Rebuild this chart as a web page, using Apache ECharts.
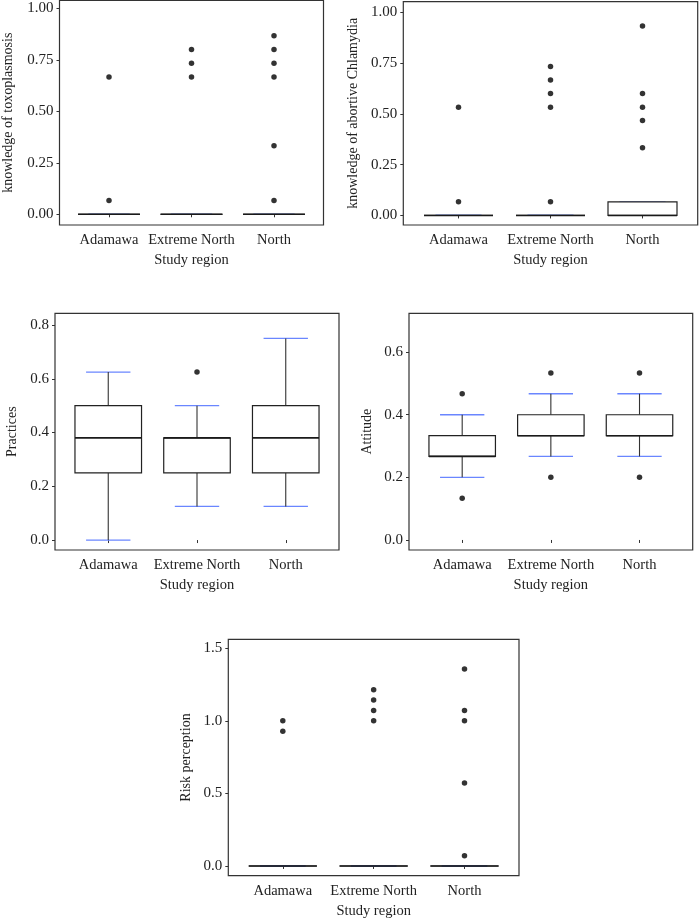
<!DOCTYPE html>
<html>
<head>
<meta charset="utf-8">
<script src="https://cdn.jsdelivr.net/npm/echarts@6/dist/echarts.min.js"></script>
<style>
  html,body{margin:0;padding:0;background:#fff}
  #main{width:699px;height:920px}
</style>
</head>
<body>
<div id="main"></div>
<script>
// categories (x positions 1,2,3)
let regions = ['Adamawa', 'Extreme North', 'North'];

// box stats per region: [min, Q1, median, Q3, max]
let toxoBox = [[0, 0, 0, 0, 0], [0, 0, 0, 0, 0], [0, 0, 0, 0, 0]];
let toxoOut = [[0.667, 0.067], [0.8, 0.733, 0.667], [0.867, 0.8, 0.733, 0.667, 0.333, 0.067]];
let toxoTicks = [0, 0.25, 0.5, 0.75, 1];

let chlamBox = [[0, 0, 0, 0, 0], [0, 0, 0, 0, 0], [0, 0, 0, 0.067, 0.067]];
let chlamOut = [[0.533, 0.067], [0.733, 0.667, 0.6, 0.533, 0.067], [0.933, 0.6, 0.533, 0.467, 0.333]];
let chlamTicks = [0, 0.25, 0.5, 0.75, 1];

let practBox = [[0, 0.25, 0.38, 0.5, 0.625], [0.125, 0.25, 0.38, 0.38, 0.5], [0.125, 0.25, 0.38, 0.5, 0.75]];
let practOut = [[], [0.625], []];
let practTicks = [0, 0.2, 0.4, 0.6, 0.8];

let attBox = [[0.2, 0.267, 0.267, 0.333, 0.4], [0.267, 0.333, 0.333, 0.4, 0.467], [0.267, 0.333, 0.333, 0.4, 0.467]];
let attOut = [[0.467, 0.133], [0.533, 0.2], [0.533, 0.2]];
let attTicks = [0, 0.2, 0.4, 0.6];

let riskBox = [[0, 0, 0, 0, 0], [0, 0, 0, 0, 0], [0, 0, 0, 0, 0]];
let riskOut = [[1.0, 0.929], [1.214, 1.143, 1.071, 1.0], [1.357, 1.071, 1.0, 0.571, 0.071]];
let riskTicks = [0, 0.5, 1, 1.5];

let chart = echarts.init(document.getElementById('main'));
let font = 'Liberation Serif';
let ink = '#222';
let capBlue = '#6a86ff';

let panels = [
  {box: toxoBox, out: toxoOut, ticks: toxoTicks, digits: 2, name: 'knowledge of toxoplasmosis',
   min: -0.052, max: 1.038, nameGap: 44, grid: {left: 59.5, top: 0.5, width: 264, height: 224.5}},
  {box: chlamBox, out: chlamOut, ticks: chlamTicks, digits: 2, name: 'knowledge of abortive Chlamydia',
   min: -0.047, max: 1.052, nameGap: 43, grid: {left: 403.3, top: 1.7, width: 294.4, height: 223.3}},
  {box: practBox, out: practOut, ticks: practTicks, digits: 1, name: 'Practices',
   min: -0.037, max: 0.8435, nameGap: 36, grid: {left: 55, top: 313.3, width: 284, height: 236.7}},
  {box: attBox, out: attOut, ticks: attTicks, digits: 1, name: 'Attitude',
   min: -0.032, max: 0.724, nameGap: 35, grid: {left: 409, top: 313.3, width: 283.7, height: 236.7}},
  {box: riskBox, out: riskOut, ticks: riskTicks, digits: 1, name: 'Risk perception',
   min: -0.067, max: 1.562, nameGap: 35, grid: {left: 228.3, top: 639.3, width: 290.7, height: 236.4}}
];

// errorbar caps, whiskers, box and median, ggplot style
function renderBox(params, api) {
  let x = api.value(0);
  let lo = api.coord([x, api.value(1)]);
  let q1 = api.coord([x, api.value(2)]);
  let md = api.coord([x, api.value(3)]);
  let q3 = api.coord([x, api.value(4)]);
  let hi = api.coord([x, api.value(5)]);
  let half = api.size([0.75, 0])[0] / 2;
  let cap = api.size([0.5, 0])[0] / 2;
  let cx = lo[0];
  return {
    type: 'group',
    children: [
      {type: 'line', shape: {x1: cx - cap, y1: hi[1], x2: cx + cap, y2: hi[1]}, style: {stroke: capBlue, lineWidth: 1.3}},
      {type: 'line', shape: {x1: cx - cap, y1: lo[1], x2: cx + cap, y2: lo[1]}, style: {stroke: capBlue, lineWidth: 1.3}},
      {type: 'line', shape: {x1: cx, y1: hi[1], x2: cx, y2: q3[1]}, style: {stroke: '#333', lineWidth: 1.1}},
      {type: 'line', shape: {x1: cx, y1: q1[1], x2: cx, y2: lo[1]}, style: {stroke: '#333', lineWidth: 1.1}},
      {type: 'rect', shape: {x: cx - half, y: q3[1], width: half * 2, height: q1[1] - q3[1]},
       style: {fill: '#fff', stroke: '#222', lineWidth: 1.2}},
      {type: 'line', shape: {x1: cx - half, y1: md[1], x2: cx + half, y2: md[1]}, style: {stroke: '#1a1a1a', lineWidth: 1.6}}
    ]
  };
}

let grids = [], xAxes = [], yAxes = [], series = [];
panels.forEach(function (p, i) {
  grids.push(Object.assign({show: true, borderColor: '#333', borderWidth: 1.2, outerBoundsMode: 'none'}, p.grid));
  xAxes.push({
    gridIndex: i, type: 'value', min: 0.4, max: 3.6,
    axisLine: {show: false}, splitLine: {show: false},
    axisTick: {show: true, customValues: [1, 2, 3], length: 3, lineStyle: {color: '#333'}},
    axisLabel: {customValues: [1, 2, 3], formatter: v => regions[Math.round(v) - 1],
      margin: 8, fontFamily: font, fontSize: 14.5, color: ink},
    name: 'Study region', nameLocation: 'middle', nameGap: 28,
    nameTextStyle: {fontFamily: font, fontSize: 14.5, color: ink}
  });
  yAxes.push({
    gridIndex: i, type: 'value', min: p.min, max: p.max,
    axisLine: {show: false}, splitLine: {show: false},
    axisTick: {show: true, customValues: p.ticks, length: 3, lineStyle: {color: '#333'}},
    axisLabel: {customValues: p.ticks, formatter: v => v.toFixed(p.digits),
      margin: 6, fontFamily: font, fontSize: 15, color: ink},
    name: p.name, nameLocation: 'middle', nameGap: p.nameGap,
    nameTextStyle: {fontFamily: font, fontSize: 14, color: ink}
  });
  let boxData = p.box.map((b, k) => [k + 1].concat(b));
  let pts = [];
  p.out.forEach((vals, k) => vals.forEach(v => pts.push([k + 1, v])));
  series.push({
    type: 'custom', xAxisIndex: i, yAxisIndex: i,
    renderItem: renderBox, data: boxData,
    encode: {x: 0, y: [1, 2, 3, 4, 5]}, silent: true
  });
  series.push({
    type: 'scatter', xAxisIndex: i, yAxisIndex: i,
    data: pts, symbol: 'circle', symbolSize: 5.5,
    itemStyle: {color: '#000'}, silent: true
  });
});

chart.setOption({
  animation: false,
  grid: grids,
  xAxis: xAxes,
  yAxis: yAxes,
  series: series
});
</script>
</body>
</html>
